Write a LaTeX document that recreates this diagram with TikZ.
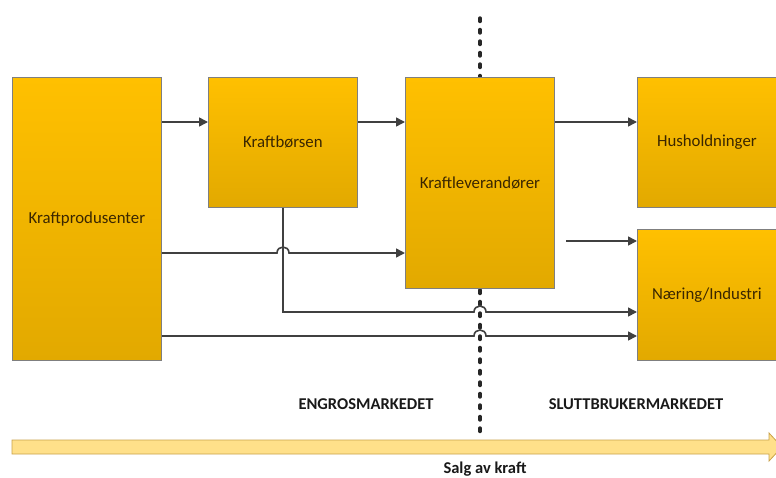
\documentclass[tikz,border=0pt]{standalone}
\usepackage{fontspec}
\setmainfont{Carlito}
\usetikzlibrary{arrows.meta,calc}
\definecolor{boxtop}{HTML}{FFC000}
\definecolor{boxbot}{HTML}{E2A900}
\definecolor{boxline}{HTML}{7F7F7F}
\definecolor{linec}{HTML}{404040}
\definecolor{arrfill}{HTML}{FFE08A}
\definecolor{arrline}{HTML}{C9A24A}
\definecolor{boxtext}{HTML}{3A2600}
\tikzset{
  unit/.style={draw=boxline, line width=0.8pt, top color=boxtop, bottom color=boxbot,
    anchor=north west, inner sep=0pt},
  utext/.style={font=\fontsize{16.8}{19}\selectfont, text=boxtext},
  conn/.style={draw=linec, line width=1.6pt},
  arr/.style={conn, -{Triangle[length=9pt,width=9pt]}},
  divider/.style={line width=3.4pt, black!85, dash pattern=on 3.5pt off 8pt, line cap=round},
  lbl/.style={font=\bfseries\fontsize{16.5}{18}\selectfont, text=black!90}
}
\begin{document}
\begin{tikzpicture}[x=1pt,y=-1pt]
\useasboundingbox (0,0) rectangle (776,477);
% dividing line
\draw[divider] (480,18) -- (480,78);
\draw[divider] (480,290) -- (480,436);
% boxes
\node[unit, minimum width=149pt, minimum height=283pt] (kp) at (12,77) {};
\node[utext] at (kp.center) {Kraftprodusenter};
\node[unit, minimum width=149pt, minimum height=130pt] (kb) at (208,77) {};
\node[utext] at (kb.center) {Kraftbørsen};
\node[unit, minimum width=149pt, minimum height=211pt] (kl) at (405,77) {};
\node[utext] at (kl.center) {Kraftleverandører};
\node[unit, minimum width=141pt, minimum height=130pt] (hh) at (637,77) {};
\node[utext] at ($(hh.center)+(-1,0)$) {Husholdninger};
\node[unit, minimum width=141pt, minimum height=131pt] (ni) at (637,229) {};
\node[utext] at ($(ni.center)+(-1,0)$) {Næring/Industri};
% level coordinates
\coordinate (ya) at (0,122);
\coordinate (yb) at (0,253);
\coordinate (yc) at (0,312);
\coordinate (yd) at (0,336);
\coordinate (ye) at (0,241);
\coordinate (xh) at (283,0);
\coordinate (xd) at (480,0);
\coordinate (fs) at (566,241);
% connectors
\draw[arr] (kp.east |- ya) -- (kb.west |- ya);
\draw[arr] (kb.east |- ya) -- (kl.west |- ya);
\draw[arr] (kl.east |- ya) -- (hh.west |- ya);
\draw[arr] (fs) -- (ni.west |- ye);
\draw[arr] (kp.east |- yb) -- ($(xh |- yb)+(-6,0)$) .. controls ($(xh |- yb)+(-6,-8)$) and ($(xh |- yb)+(6,-8)$) .. ($(xh |- yb)+(6,0)$) -- (kl.west |- yb);
\draw[arr] (kb.south -| xh) -- (xh |- yc) -- ($(xd |- yc)+(-6,0)$) .. controls ($(xd |- yc)+(-6,-8)$) and ($(xd |- yc)+(6,-8)$) .. ($(xd |- yc)+(6,0)$) -- (ni.west |- yc);
\draw[arr] (kp.east |- yd) -- ($(xd |- yd)+(-6,0)$) .. controls ($(xd |- yd)+(-6,-8)$) and ($(xd |- yd)+(6,-8)$) .. ($(xd |- yd)+(6,0)$) -- (ni.west |- yd);
% labels
\node[lbl] (eng) at (366,404) {ENGROSMARKEDET};
\node[lbl] (slu) at (636,404) {SLUTTBRUKERMARKEDET};
% bottom arrow
\draw[draw=arrline, fill=arrfill, line width=0.8pt] (12,440) -- (769,440) -- (769,433) -- (782,447) -- (769,461) -- (769,454) -- (12,454) -- cycle;
\node[lbl] (salg) at (485,469) {Salg av kraft};
\end{tikzpicture}
\end{document}
